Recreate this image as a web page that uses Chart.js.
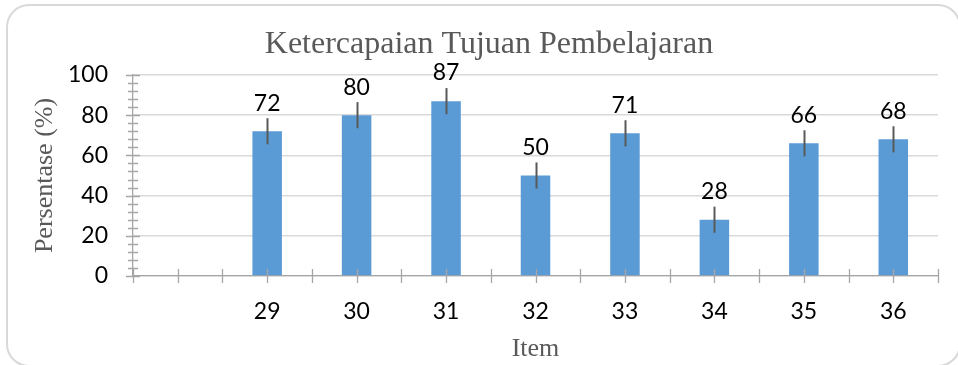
<!DOCTYPE html>
<html>
<head>
<meta charset="utf-8">
<script src="https://cdn.jsdelivr.net/npm/chart.js@4"></script>
<style>
    html, body { margin: 0; padding: 0; background: #fff; }
    #wrap { width: 958px; height: 365px; }
</style>
</head>
<body>
<div id="wrap"><canvas id="chart" width="958" height="365"></canvas></div>
<script>
/* ---------- Data ---------- */

const items = ["", "29", "30", "31", "32", "33", "34", "35", "36"];
const percent = [null, 72, 80, 87, 50, 71, 28, 66, 68];
const errBars = [null, 6.5, 6.5, 6.5, 6.5, 6.5, 6.5, 6.5, 6.5];

/* ---------- Style ---------- */

const SERIF = "'Liberation Serif', 'Times New Roman', serif";
const SANS = "Lato, 'Open Sans', sans-serif";
const GREY_TEXT = "#595959";
const AXIS = "#a6a6a6";
const GRID = "#d9d9d9";

/* ---------- Plugins ---------- */

// rounded frame around the whole chart (right edge runs off the canvas)
const frame = {
    id: "frame",
    beforeDraw(chart) {
        const c = chart.ctx;
        c.save();
        c.fillStyle = "#fff";
        c.fillRect(0, 0, chart.width, chart.height);
        c.strokeStyle = GRID;
        c.lineWidth = 2;
        c.beginPath();
        c.roundRect(7, 5, 953, 361, 22);
        c.stroke();
        c.restore();
    }
};

// cross tick marks on both axes (Excel style)
const axisMarks = {
    id: "axisMarks",
    afterDatasetsDraw(chart) {
        const { x, y } = chart.scales;
        const c = chart.ctx;
        const y0 = y.getPixelForValue(0);
        const x0 = x.left;
        c.save();
        c.strokeStyle = AXIS;
        c.lineWidth = 1.3;
        c.beginPath();
        for (let i = 0; i < items.length; i++) {
            for (const v of [i - 0.5, i]) {
                const px = Math.round(x.getPixelForValue(v)) + 0.5;
                c.moveTo(px, y0 - 7);
                c.lineTo(px, y0 + 7);
            }
        }
        const last = Math.round(x.getPixelForValue(items.length - 0.5)) + 0.5;
        c.moveTo(last, y0 - 7);
        c.lineTo(last, y0 + 7);
        for (let v = 0; v <= 100; v += 4) {
            const py = Math.round(y.getPixelForValue(v)) + 0.5;
            const len = v % 20 === 0 ? 7 : 5;
            c.moveTo(x0 - len, py);
            c.lineTo(x0 + len, py);
        }
        c.stroke();
        c.restore();
    }
};

// error bars + value labels above them
const errorsAndLabels = {
    id: "errorsAndLabels",
    afterDatasetsDraw(chart) {
        const meta = chart.getDatasetMeta(0);
        const y = chart.scales.y;
        const c = chart.ctx;
        c.save();
        c.strokeStyle = GREY_TEXT;
        c.lineWidth = 2;
        c.fillStyle = "#000";
        c.font = "23px " + SANS;
        c.textAlign = "center";
        c.textBaseline = "middle";
        meta.data.forEach((bar, i) => {
            const v = percent[i];
            if (v === null) return;
            const e = errBars[i];
            const top = y.getPixelForValue(v + e);
            const bot = y.getPixelForValue(v - e);
            const bx = Math.round(bar.x) + 0.5;
            c.beginPath();
            c.moveTo(bx, top);
            c.lineTo(bx, bot);
            c.stroke();
            c.fillText(String(v), bar.x, top - 15);
        });
        c.restore();
    }
};

/* ---------- Chart ---------- */

new Chart(document.getElementById("chart"), {
    type: "bar",
    data: {
        labels: items,
        datasets: [{
            data: percent,
            backgroundColor: "#5b9bd5",
            barPercentage: 0.33,
            categoryPercentage: 1
        }]
    },
    options: {
        responsive: false,
        animation: false,
        layout: { padding: { left: 40, right: 20, top: 15, bottom: 0 } },
        plugins: {
            legend: { display: false },
            tooltip: { enabled: false },
            title: {
                display: true,
                text: "Ketercapaian Tujuan Pembelajaran",
                color: GREY_TEXT,
                font: { family: SERIF, size: 32, weight: "normal" },
                padding: { top: 10, bottom: 11.6 }
            }
        },
        scales: {
            x: {
                offset: true,
                grid: { display: false, drawTicks: false },
                border: { color: AXIS, width: 1.3 },
                ticks: {
                    color: "#000",
                    font: { family: SANS, size: 23 },
                    padding: 22,
                    maxRotation: 0,
                    autoSkip: false
                },
                title: {
                    display: true,
                    text: "Item",
                    color: GREY_TEXT,
                    font: { family: SERIF, size: 26 },
                    padding: { top: 0, bottom: 0 }
                },
                afterFit: s => { s.height = 89; }
            },
            y: {
                min: 0,
                max: 100,
                ticks: {
                    stepSize: 20,
                    color: "#000",
                    font: { family: SANS, size: 23 },
                    padding: 25
                },
                grid: { color: GRID, lineWidth: 1.5, drawTicks: false },
                border: { color: AXIS, width: 1.3 },
                title: {
                    display: true,
                    text: "Persentase (%)",
                    color: GREY_TEXT,
                    font: { family: SERIF, size: 26 },
                    padding: { top: -10.6, bottom: 0 }
                },
                afterFit: s => { s.width = 93; }
            }
        }
    },
    plugins: [frame, axisMarks, errorsAndLabels]
});
</script>
</body>
</html>
